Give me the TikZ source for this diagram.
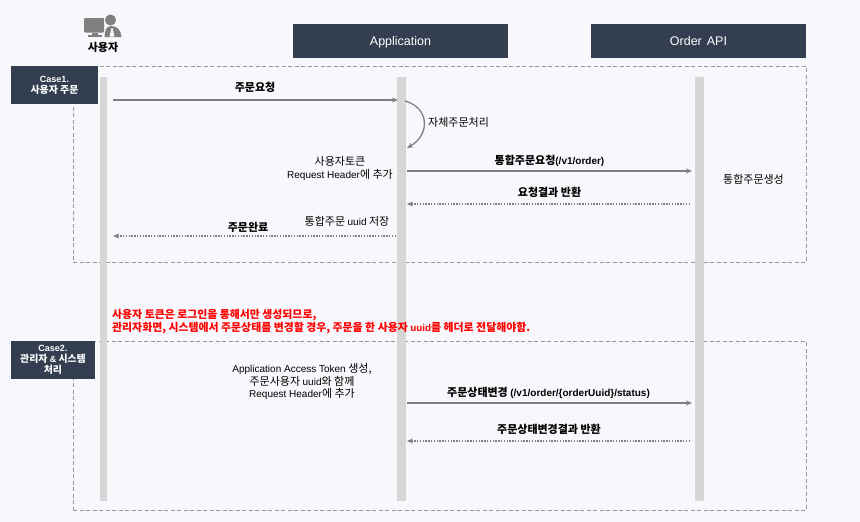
\documentclass[tikz,border=0pt]{standalone}
\usepackage{fontspec}
\setmainfont{Noto Sans CJK KR}[Scale=1.1]
\newfontfamily\latfont{Liberation Sans}
\usetikzlibrary{arrows.meta}
\usetikzlibrary{positioning}
\definecolor{navy}{HTML}{333F50}
\definecolor{lifegray}{HTML}{D6D6D6}
\definecolor{arrowgray}{HTML}{7F7F7F}
\definecolor{paper}{HTML}{F8F7FB}
\newcommand{\lat}[1]{{\latfont #1}}

\begin{document}
\begin{tikzpicture}[x=1pt,y=-1pt,>={Stealth[length=6pt,width=5pt]},
    head node/.style={fill=navy,text=white,minimum width=215pt,minimum height=34pt,inner sep=0pt,text height=9pt,text depth=0pt,font=\fontsize{12.5}{14}\selectfont},
    case node/.style={fill=navy,text=white,minimum height=38pt,inner sep=0pt,align=center,font=\fontsize{9}{11}\selectfont\bfseries},
    life node/.style={fill=lifegray,minimum width=7.5pt,minimum height=424pt,inner sep=0pt},
    frame node/.style={draw=arrowgray!80,dashed,line width=0.5pt,inner sep=0pt,dash pattern=on 4pt off 2.5pt},
    msg/.style={font=\fontsize{10}{12}\selectfont\bfseries,inner sep=0pt},
    note/.style={font=\fontsize{10}{12.5}\selectfont,inner sep=0pt,align=center},
    call/.style={->,draw=arrowgray,line width=1.5pt},
    reply/.style={->,draw=arrowgray,line width=1.2pt,dash pattern=on 1.4pt off 1.4pt}]
    \fill[paper] (0,0) rectangle (860,522);
    \useasboundingbox (0,0) rectangle (860,522);

    % frames
    \node[frame node,minimum width=733pt,minimum height=196pt] (frame1) at (439.5,164) {};
    \node[frame node,minimum width=733pt,minimum height=169pt] (frame2) at (439.5,425.5) {};

    % life lines
    \node[life node] (user) at (103.5,289) {};
    \node[life node,minimum width=9pt] (app) at (401.5,289) {};
    \node[life node,minimum width=9pt] (api) at (699.5,289) {};

    % headers
    \node[head node] (apphead) at (400.5,41) {\lat{Application}};
    \node[head node] (apihead) at (698.5,41) {\lat{Order\hspace{5pt}API}};
    \node[case node,minimum width=87pt] (case1) at (54.5,85) {\lat{Case1.}\\사용자 주문};
    \node[case node,minimum width=84pt] (case2) at (53,360) {\lat{Case2.}\\관리자 \lat{\&} 시스템\\처리};

    % user icon
    \begin{scope}
      \fill[arrowgray,rounded corners=1pt] (84,18) rectangle (104,32.5);
      \fill[arrowgray] (92,32.5) rectangle (98,35);
      \fill[arrowgray] (88,35) rectangle (102,36.5);
      \fill[arrowgray] (110.5,20) circle (5.5);
      \fill[arrowgray] (104.5,37) .. controls (105,31) and (106,26) .. (111,26) .. controls (117,26) and (121,30) .. (121.5,37) -- cycle;
      \fill[paper] (111.5,28) -- (112.5,28) -- (114.5,36.5) -- (109.5,36.5) -- cycle;
    \end{scope}
    \node[msg] (usertxt) at (103,47) {사용자};

    % connector ends
    \coordinate (u1) at (113,100);
    \coordinate (a1) at (398,100);
    \coordinate (a2) at (405,101);
    \coordinate (a3) at (407,148);
    \coordinate (a4) at (407,171);
    \coordinate (o4) at (692,171);
    \coordinate (o5) at (690,204);
    \coordinate (a5) at (407,204);
    \coordinate (a6) at (396,236);
    \coordinate (u6) at (113,236);
    \coordinate (a7) at (407,403);
    \coordinate (o7) at (692,403);
    \coordinate (o8) at (690,441);
    \coordinate (a8) at (407,441);

    \draw[call] (u1) -- (a1);
    \draw[->,draw=arrowgray,line width=1.3pt] (a2) .. controls (430,108) and (430,135) .. (a3);
    \draw[call] (a4) -- (o4);
    \draw[reply] (o5) -- (a5);
    \draw[reply] (a6) -- (u6);
    \draw[call] (a7) -- (o7);
    \draw[reply] (o8) -- (a8);

    % labels
    \node[msg] (t1) at (255,87.5) {주문요청};
    \node[note,anchor=west] (t2) at (428,122.5) {자체주문처리};
    \node[note] (t3) at (340,168.5) {사용자토큰\\\lat{Request Header}에 추가};
    \node[msg] (t4) at (549.5,160.5) {통합주문요청\lat{(/v1/order)}};
    \node[msg] (t5) at (549.5,192.5) {요청결과 반환};
    \node[note] (t6) at (753.5,179) {통합주문생성};
    \node[note] (t7) at (347,221) {통합주문 \lat{uuid} 저장};
    \node[msg] (t8) at (248,227) {주문완료};
    \node[msg,text=red,align=left,anchor=west,font=\fontsize{9.9}{12.8}\selectfont\bfseries] (warn) at (112,321.5) {사용자 토큰은 로그인을 통해서만 생성되므로,\\관리자화면, 시스템에서 주문상태를 변경할 경우, 주문을 한 사용자 \lat{uuid}를 헤더로 전달해야함.};
    \node[note] (t9) at (302,381.5) {\lat{Application Access Token} 생성,\\주문사용자 \lat{uuid}와 함께\\\lat{Request Header}에 추가};
    \node[msg] (t10) at (548.5,392.5) {주문상태변경 \lat{(/v1/order/\{orderUuid\}/status)}};
    \node[msg] (t11) at (549,429.5) {주문상태변경결과 반환};
\end{tikzpicture}
\end{document}
